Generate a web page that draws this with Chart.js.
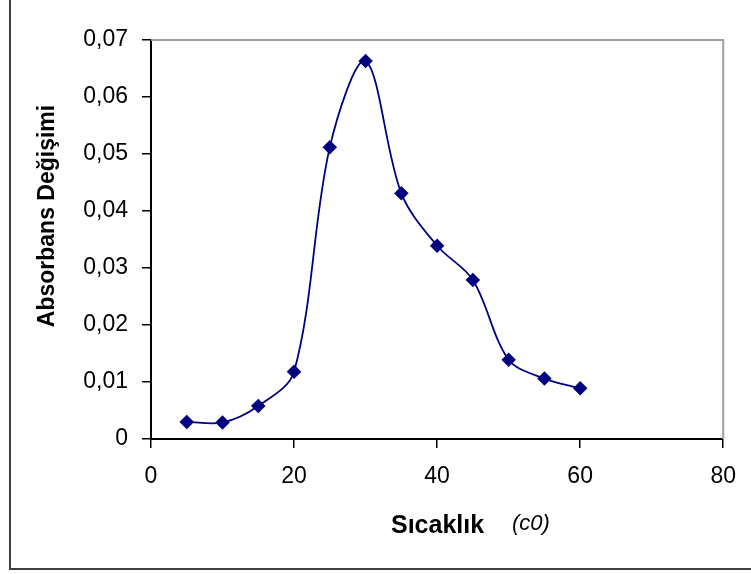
<!DOCTYPE html>
<html>
<head>
<meta charset="utf-8">
<script src="https://cdn.jsdelivr.net/npm/chart.js@4/dist/chart.umd.min.js"></script>
<style>
  html, body { margin: 0; padding: 0; background: #fff; }
  #wrap { width: 751px; height: 574px; position: relative; }
</style>
</head>
<body>
<div id="wrap"><canvas id="grafik"></canvas></div>
<script>
// Sıcaklık (x) ve absorbans değişimi (y) değerleri
const sicaklik = [5, 10, 15, 20, 25, 30, 35, 40, 45, 50, 55, 60];
const absorbans = [0.0030, 0.0029, 0.0058, 0.0118, 0.0512, 0.0663, 0.0431, 0.0339, 0.0279, 0.0139, 0.0106, 0.0089];

// Eksen sınırları
const xMin = 0, xMax = 80, xAdim = 20;
const yMin = 0, yMax = 0.07, yAdim = 0.01;

const yBaslik = 'Absorbans Değişimi';
const xBaslik = 'Sıcaklık';
const xBirim = '(c0)';

const noktalar = sicaklik.map((x, i) => ({ x: x, y: absorbans[i] }));

const fontAile = '"Liberation Sans", Arial, sans-serif';

// Başlıklar ve çerçeveler için eklenti
const cerceve = {
    id: 'cerceve',
    beforeDatasetsDraw(chart) {
        const { ctx, chartArea: a } = chart;
        ctx.save();
        ctx.strokeStyle = '#a0a0a0';
        ctx.lineWidth = 2;
        ctx.beginPath();
        ctx.moveTo(a.left, a.top);
        ctx.lineTo(a.right, a.top);
        ctx.lineTo(a.right, a.bottom);
        ctx.stroke();
        ctx.restore();
    },
    afterDraw(chart) {
        const ctx = chart.ctx;
        ctx.save();
        // dış çerçeve (sol ve alt)
        ctx.strokeStyle = '#404040';
        ctx.lineWidth = 2;
        ctx.beginPath();
        ctx.moveTo(10, 0);
        ctx.lineTo(10, 569);
        ctx.lineTo(751, 569);
        ctx.stroke();

        ctx.fillStyle = '#000';
        // y ekseni başlığı
        ctx.translate(48, 216);
        ctx.rotate(-Math.PI / 2);
        ctx.font = 'bold 23px ' + fontAile;
        ctx.textAlign = 'center';
        ctx.textBaseline = 'middle';
        ctx.fillText(yBaslik, 0, 0);
        ctx.setTransform(1, 0, 0, 1, 0, 0);

        // x ekseni başlığı
        ctx.textAlign = 'left';
        ctx.textBaseline = 'alphabetic';
        ctx.font = 'bold 25px ' + fontAile;
        ctx.fillText(xBaslik, 391, 533);
        ctx.font = 'italic 22px ' + fontAile;
        ctx.fillText(xBirim, 512, 530);
        ctx.restore();
    }
};

const grafik = new Chart(document.getElementById('grafik').getContext('2d'), {
    type: 'scatter',
    data: {
        datasets: [{
            data: noktalar,
            showLine: true,
            tension: 0.33,
            borderColor: '#000080',
            borderWidth: 1.8,
            backgroundColor: '#000080',
            pointStyle: 'rectRot',
            pointRadius: 6,
            pointHoverRadius: 6,
            pointBorderColor: '#000080',
            pointBackgroundColor: '#000080',
            clip: false
        }]
    },
    options: {
        responsive: true,
        maintainAspectRatio: false,
        animation: false,
        layout: { padding: { top: 40, right: 25, left: 0, bottom: 0 } },
        plugins: {
            legend: { display: false },
            tooltip: { enabled: false }
        },
        scales: {
            x: {
                type: 'linear',
                min: xMin,
                max: xMax,
                afterFit(scale) { scale.height = 135; },
                ticks: {
                    stepSize: xAdim,
                    color: '#000',
                    padding: 15,
                    font: { family: fontAile, size: 23 },
                    maxRotation: 0
                },
                grid: {
                    display: true,
                    drawOnChartArea: false,
                    drawTicks: true,
                    tickLength: 9,
                    color: '#000',
                    lineWidth: 1.5
                },
                border: { display: true, color: '#000', width: 2 }
            },
            y: {
                type: 'linear',
                min: yMin,
                max: yMax,
                afterFit(scale) { scale.width = 151; },
                ticks: {
                    stepSize: yAdim,
                    color: '#000',
                    padding: 14,
                    font: { family: fontAile, size: 23 },
                    callback: function (v) {
                        const r = Math.round(v * 100) / 100;
                        return r === 0 ? '0' : r.toFixed(2).replace('.', ',');
                    }
                },
                grid: {
                    display: true,
                    drawOnChartArea: false,
                    drawTicks: true,
                    tickLength: 9,
                    color: '#000',
                    lineWidth: 1.5
                },
                border: { display: true, color: '#000', width: 2 }
            }
        }
    },
    plugins: [cerceve]
});
</script>
</body>
</html>
